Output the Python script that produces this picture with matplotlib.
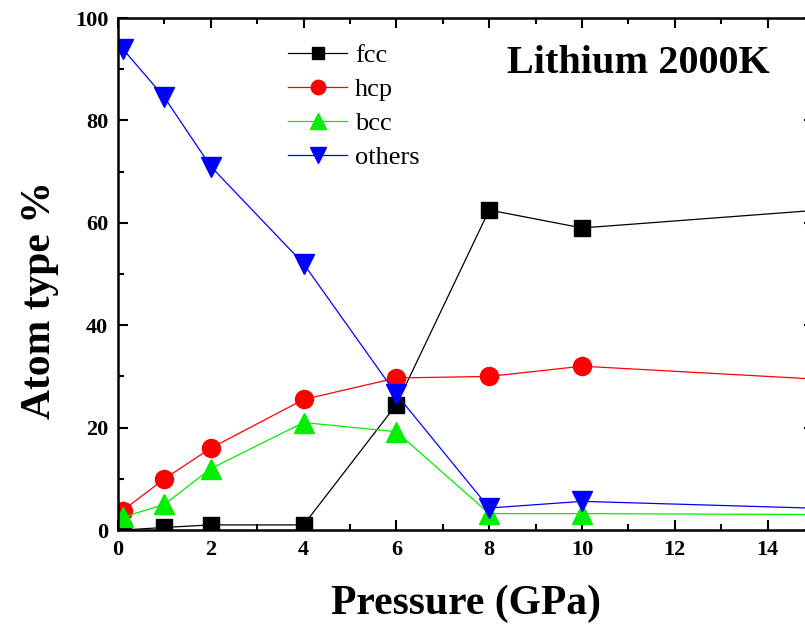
import matplotlib
matplotlib.use("Agg")
import matplotlib.pyplot as plt
from matplotlib.ticker import MultipleLocator

plt.rcParams['font.family'] = ['Liberation Serif', 'DejaVu Serif']

# pressure (GPa) and atom-type percentages
# (last point lies just past the visible right edge)
pressure = [0.1, 1, 2, 4, 6, 8, 10, 16]
fcc = [0.0, 0.5, 1.0, 1.0, 24.5, 62.5, 59.0, 63.1]
hcp = [3.8, 10.0, 16.0, 25.5, 29.7, 30.0, 32.0, 29.0]
bcc = [2.5, 5.0, 12.0, 21.0, 19.2, 3.2, 3.2, 3.0]
others = [94.0, 84.5, 71.0, 52.0, 26.5, 4.3, 5.6, 4.0]

fig = plt.figure(figsize=(8.05, 6.24), dpi=100)
ax = fig.add_axes([0.1466, 0.1506, 0.8646, 0.8205])

ax.plot(pressure, fcc, color='black', lw=0.9, marker='s', ms=11, label='fcc')
ax.plot(pressure, hcp, color='red', lw=0.9, marker='o', ms=13, label='hcp')
ax.plot(pressure, bcc, color='#00ee00', lw=0.9, marker='^', ms=14, label='bcc')
ax.plot(pressure, others, color='blue', lw=0.9, marker='v', ms=14, label='others')

ax.set_xlim(0, 15)
ax.set_ylim(0, 100)
ax.xaxis.set_major_locator(MultipleLocator(2))
ax.xaxis.set_minor_locator(MultipleLocator(1))
ax.yaxis.set_major_locator(MultipleLocator(20))
ax.yaxis.set_minor_locator(MultipleLocator(10))
ax.tick_params(which='both', direction='in', top=True, right=True, width=1.5)
ax.tick_params(which='major', length=7, labelsize=16, pad=7)
ax.tick_params(which='minor', length=4)
for lab in ax.get_xticklabels() + ax.get_yticklabels():
    lab.set_fontweight('bold')
for sp in ax.spines.values():
    sp.set_linewidth(1.8)

ax.set_xlabel('Pressure (GPa)', fontsize=30, fontweight='bold', labelpad=18)
ax.set_ylabel('Atom type %', fontsize=30, fontweight='bold')
ax.yaxis.set_label_coords(-0.085, 0.449)

ax.text(0.937, 0.912, 'Lithium 2000K', transform=ax.transAxes, ha='right', va='center',
        fontsize=29, fontweight='bold')

ax.legend(loc='upper left', bbox_to_anchor=(0.21, 0.997), frameon=False, fontsize=19,
          handlelength=2.25, labelspacing=0.4, handletextpad=0.3, markerscale=0.8)

fig.savefig('out.png', dpi=100)
